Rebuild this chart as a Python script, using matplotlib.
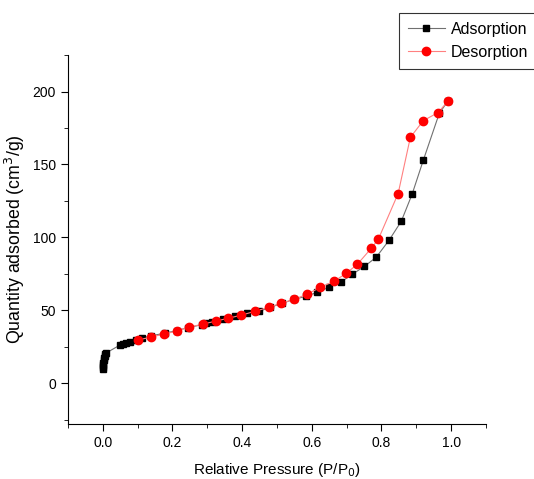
import matplotlib
matplotlib.use("Agg")
import matplotlib.pyplot as plt
from matplotlib.ticker import MultipleLocator

plt.rcParams['font.family'] = ['Liberation Sans', 'DejaVu Sans']

# adsorption branch (P/P0, cm3/g)
ads_p = [0.0005, 0.001, 0.0015, 0.002, 0.003, 0.004, 0.006, 0.008, 0.011,
         0.049, 0.057, 0.068, 0.078, 0.095, 0.112, 0.14, 0.178, 0.212, 0.244,
         0.284, 0.298, 0.315, 0.344, 0.381, 0.415, 0.45, 0.481, 0.516, 0.55,
         0.585, 0.616, 0.65, 0.685, 0.716, 0.751, 0.785, 0.822, 0.857, 0.888,
         0.92, 0.966, 0.991]
ads_q = [9.6, 11.0, 12.5, 14.0, 15.5, 17.0, 18.5, 19.8, 20.8,
         26.0, 27.0, 27.8, 28.5, 29.8, 30.8, 32.5, 34.2, 36.0, 38.0,
         40.0, 41.0, 41.8, 43.8, 45.9, 47.9, 49.3, 52.0, 54.8, 57.5,
         59.6, 62.3, 65.8, 69.5, 74.6, 80.0, 86.3, 98.0, 111.0, 129.5,
         152.7, 185.0, 193.5]

# desorption branch
des_p = [0.991, 0.963, 0.92, 0.883, 0.848, 0.791, 0.771, 0.731, 0.699, 0.665,
         0.625, 0.587, 0.55, 0.513, 0.476, 0.438, 0.398, 0.361, 0.324, 0.287,
         0.247, 0.212, 0.175, 0.138, 0.1]
des_q = [193.5, 185.6, 180.0, 168.5, 130.0, 98.6, 92.5, 81.5, 75.3, 70.0,
         65.7, 61.0, 57.5, 54.8, 52.0, 49.3, 46.6, 44.5, 42.5, 40.4,
         38.4, 35.6, 33.6, 31.5, 29.5]

fig = plt.figure(figsize=(5.34, 4.79), dpi=100)
ax = fig.add_axes([0.127, 0.115, 0.783, 0.77])

ax.plot(ads_p, ads_q, color='#707070', lw=0.8, marker='s', ms=5,
        mfc='black', mec='black', label='Adsorption')
ax.plot(des_p, des_q, color='#ff8080', lw=0.8, marker='o', ms=6,
        mfc='red', mec='red', label='Desorption')

ax.set_xlim(-0.1, 1.1)
ax.set_ylim(-28, 225)
ax.xaxis.set_major_locator(MultipleLocator(0.2))
ax.xaxis.set_minor_locator(MultipleLocator(0.1))
ax.yaxis.set_major_locator(MultipleLocator(50))
ax.yaxis.set_minor_locator(MultipleLocator(25))
ax.xaxis.set_major_formatter(matplotlib.ticker.FormatStrFormatter('%.1f'))

for side in ['top', 'right']:
    ax.spines[side].set_visible(False)
ax.tick_params(which='both', direction='out', labelsize=10)
ax.tick_params(which='major', length=5)
ax.tick_params(which='minor', length=3)

ax.set_xlabel('Relative Pressure (P/P$_0$)', fontsize=11, labelpad=8)
ax.set_ylabel('Quantity adsorbed (cm$^3$/g)', fontsize=12.8, labelpad=4)

# legend box sits in the top right corner, text kept just inside the canvas
leg = fig.legend(loc='upper left', bbox_to_anchor=(399 / 534, 1 - 13 / 479),
                 bbox_transform=fig.transFigure, borderaxespad=0,
                 fancybox=False, edgecolor='black', fontsize=11.5,
                 handlelength=2.3, borderpad=0.55, labelspacing=0.5,
                 handletextpad=0.4)
leg.get_frame().set_linewidth(0.8)

fig.savefig('out.png', dpi=100)
